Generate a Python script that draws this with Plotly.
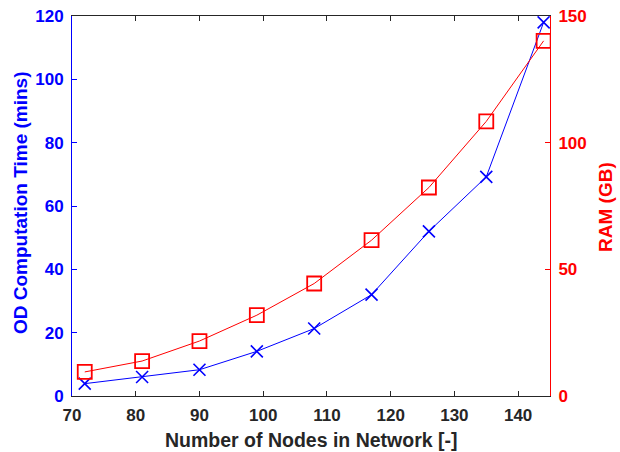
import plotly.graph_objects as go

nodes = [72, 81, 90, 99, 108, 117, 126, 135, 144]
od_time_mins = [3.9, 6.0, 8.3, 14.1, 21.3, 32.0, 52.0, 69.2, 118.0]
ram_gb = [9.5, 13.8, 21.7, 31.9, 44.4, 61.5, 82.3, 108.4, 140.2]

x_ticks = [70, 80, 90, 100, 110, 120, 130, 140]
left_ticks = [0, 20, 40, 60, 80, 100, 120]
right_ticks = [0, 50, 100, 150]

x_title = "Number of Nodes in Network [-]"
left_title = "OD Computation Time (mins)"
right_title = "RAM (GB)"

BLUE = "#0000FF"
RED = "#FF0000"
DARK = "#262626"
FONT = "Liberation Sans, Arial, sans-serif"

W, H = 620, 452
L, T = 72, 16
R = W - 550
B = H - 396

fig = go.Figure()
fig.add_trace(go.Scatter(
    x=nodes, y=od_time_mins, mode="lines+markers",
    line=dict(color=BLUE, width=1),
    marker=dict(symbol="x-thin-open", size=12, line=dict(color=BLUE, width=1.6), color=BLUE),
    yaxis="y", showlegend=False))
fig.add_trace(go.Scatter(
    x=nodes, y=ram_gb, mode="lines+markers",
    line=dict(color=RED, width=1),
    marker=dict(symbol="square-open", size=14, line=dict(color=RED, width=1.8), color=RED),
    yaxis="y2", showlegend=False))

fig.update_layout(
    width=W, height=H,
    margin=dict(l=L, r=R, t=T, b=B, autoexpand=False),
    paper_bgcolor="white", plot_bgcolor="white",
    font=dict(family=FONT, size=17, color="black"),
    xaxis=dict(
        range=[70, 145], tickvals=x_ticks, ticks="inside", ticklen=5,
        tickcolor=DARK, showline=True, linecolor=DARK, linewidth=1,
        mirror="ticks", showgrid=False, zeroline=False, automargin=False,
        tickfont=dict(family=FONT, size=17, color=DARK, weight="bold"),
        ticklabelstandoff=4, ticklabeloverflow="allow",
    ),
    yaxis=dict(
        range=[0, 120], tickvals=left_ticks, ticks="inside", ticklen=5,
        tickcolor=BLUE, showline=True, linecolor=BLUE, linewidth=1,
        showgrid=False, zeroline=False, automargin=False,
        tickfont=dict(family=FONT, size=17, color=BLUE, weight="bold"),
        ticklabelstandoff=4, ticklabeloverflow="allow",
    ),
    yaxis2=dict(
        range=[0, 150], tickvals=right_ticks, ticks="inside", ticklen=5,
        tickcolor=RED, showline=True, linecolor=RED, linewidth=1,
        overlaying="y", side="right", anchor="x",
        showgrid=False, zeroline=False, automargin=False,
        tickfont=dict(family=FONT, size=17, color=RED, weight="bold"),
        ticklabelstandoff=4, ticklabeloverflow="allow",
    ),
)

fig.add_annotation(
    text="<b>" + x_title + "</b>", xref="paper", yref="paper",
    x=0.5, y=0, xanchor="center", yanchor="middle", yshift=-(440 - 396),
    showarrow=False, font=dict(family=FONT, size=19.5, color=DARK))
fig.add_annotation(
    text="<b>" + left_title + "</b>", xref="paper", yref="paper",
    x=0, y=0.5, xanchor="center", yanchor="middle", xshift=-(72 - 20), yshift=3,
    textangle=-90, showarrow=False, font=dict(family=FONT, size=19, color=BLUE))
fig.add_annotation(
    text="<b>" + right_title + "</b>", xref="paper", yref="paper",
    x=1, y=0.5, xanchor="center", yanchor="middle", xshift=605 - 550, yshift=-1,
    textangle=-90, showarrow=False, font=dict(family=FONT, size=19, color=RED))

fig.write_html(
    "out.html",
    config={"displayModeBar": False},
    post_script="document.body.style.margin='0';document.body.style.overflow='hidden';")
